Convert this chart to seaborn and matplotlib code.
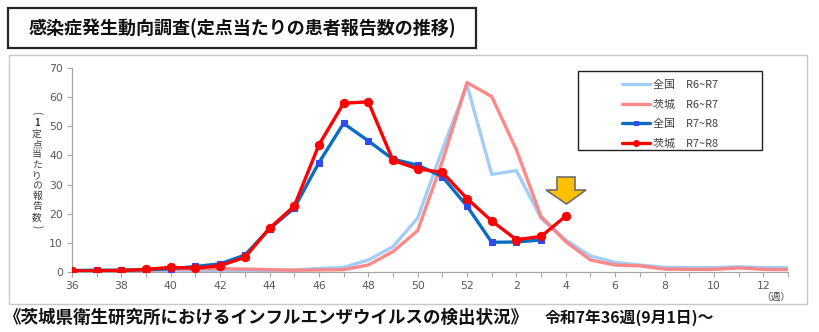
import matplotlib
matplotlib.use("Agg")
import matplotlib.pyplot as plt
from matplotlib.patches import Rectangle, Polygon
import seaborn as sns
import pandas as pd

# Surveillance weeks: week 36 through week 52, then week 1 through week 13
weeks = list(range(36, 53)) + list(range(1, 14))

# Reports per sentinel site, season R6~R7
national_r6 = [0.3, 0.3, 0.3, 0.4, 0.4, 0.5, 0.5, 0.5, 0.6, 0.7,
               1.2, 1.6, 4.1, 8.7, 18.5, 42.0, 64.2, 33.5, 34.8, 18.4,
               11.0, 5.5, 3.3, 2.4, 1.6, 1.5, 1.5, 1.8, 1.5, 1.5]
ibaraki_r6 = [0.5, 0.5, 0.6, 0.7, 0.9, 1.1, 1.1, 1.0, 0.8, 0.6,
              0.7, 0.8, 2.4, 7.0, 14.2, 38.0, 65.0, 60.2, 41.9, 19.0,
              10.4, 4.1, 2.4, 2.1, 1.0, 0.9, 0.9, 1.4, 0.9, 0.8]

# Reports per sentinel site, season R7~R8 (in progress)
national_r7 = [0.5, 0.6, 0.6, 0.8, 1.1, 1.9, 2.8, 5.8, 14.8, 21.9,
               37.5, 51.0, 45.0, 38.7, 36.7, 32.7, 22.6, 10.2, 10.3, 11.0]
ibaraki_r7 = [0.3, 0.4, 0.5, 0.9, 1.6, 1.3, 2.2, 5.0, 15.0, 22.6,
              43.6, 57.9, 58.4, 38.3, 35.4, 34.2, 25.2, 17.5, 11.1, 12.2,
              19.2]

series_labels = ["全国　R6~R7", "茨城　R6~R7", "全国　R7~R8", "茨城　R7~R8"]
title_text = "感染症発生動向調査(定点当たりの患者報告数の推移)"
ylabel_text = "(1定点当たりの報告数)"
footer_left = "《茨城県衛生研究所におけるインフルエンザウイルスの検出状況》"
footer_right = "令和7年36週(9月1日)～"
week_unit = "（週）"

sns.set_theme(style="white")
plt.rcParams["font.family"] = ["Noto Sans CJK JP", "DejaVu Sans"]

W, H = 820, 332
fig = plt.figure(figsize=(W / 100, H / 100), dpi=100)


def fx(px):
    return px / W


def fy(py):
    return 1 - py / H


ax = fig.add_axes([fx(72), fy(272), fx(788) - fx(72), fy(68) - fy(272)])

idx = list(range(len(weeks)))
df_n6 = pd.DataFrame({"i": idx, "v": national_r6})
df_i6 = pd.DataFrame({"i": idx, "v": ibaraki_r6})
df_n7 = pd.DataFrame({"i": idx[:len(national_r7)], "v": national_r7})
df_i7 = pd.DataFrame({"i": idx[:len(ibaraki_r7)], "v": ibaraki_r7})

sns.lineplot(data=df_n6, x="i", y="v", ax=ax, color="#9DCBF7", lw=2.4,
             alpha=0.95, label=series_labels[0], zorder=2)
sns.lineplot(data=df_i6, x="i", y="v", ax=ax, color="#FF8282", lw=2.4,
             alpha=0.95, label=series_labels[1], zorder=2)
sns.lineplot(data=df_n7, x="i", y="v", ax=ax, color="#0A6EC0", lw=2.4,
             marker="s", markersize=4.5, markerfacecolor="#2E4CF0",
             markeredgecolor="#2E4CF0", label=series_labels[2], zorder=3)
sns.lineplot(data=df_i7, x="i", y="v", ax=ax, color="#FF0000", lw=2.4,
             marker="o", markersize=6, markerfacecolor="#FF0000",
             markeredgecolor="#FF0000", label=series_labels[3], zorder=4)

ax.set_xlim(0, len(weeks) - 1)
ax.set_ylim(0, 70)
ax.set_yticks(range(0, 71, 10))
ax.set_xticks(idx)
ax.set_xticklabels([str(w) if k % 2 == 0 else "" for k, w in enumerate(weeks)])
ax.set_xlabel("")
ax.set_ylabel("")
for s in ("top", "right"):
    ax.spines[s].set_visible(False)
for s in ("left", "bottom"):
    ax.spines[s].set_color("#A6A6A6")
    ax.spines[s].set_linewidth(0.9)
ax.tick_params(axis="both", which="major", direction="out", length=3.5,
               width=0.8, color="#A6A6A6", labelcolor="#595959",
               pad=3, left=True, bottom=True)
for lab in ax.get_xticklabels() + ax.get_yticklabels():
    lab.set_family(["DejaVu Sans"])
    lab.set_fontsize(7.8)

# Legend inside its own framed box
handles, labels = ax.get_legend_handles_labels()
leg = ax.legend(handles, labels, loc="upper left", frameon=False,
                bbox_to_anchor=(fx(613), fy(71)), bbox_transform=fig.transFigure,
                handlelength=2.5, handletextpad=0.3, labelspacing=0.85,
                fontsize=7.9, borderpad=0.35, markerscale=0.7)
for t in leg.get_texts():
    t.set_color("#404040")
fig.patches.append(Rectangle((fx(578), fy(150)), fx(762) - fx(578), fy(71) - fy(150),
                             transform=fig.transFigure, fill=False,
                             edgecolor="#202020", lw=1.0, zorder=5))

# Outer panel around the chart
fig.patches.append(Rectangle((fx(9), fy(304)), fx(807) - fx(9), fy(55) - fy(304),
                             transform=fig.transFigure, fill=False,
                             edgecolor="#C8C8C8", lw=1.0, zorder=0))

# Title box
fig.patches.append(Rectangle((fx(8), fy(48)), fx(476) - fx(8), fy(8) - fy(48),
                             transform=fig.transFigure, fill=False,
                             edgecolor="#262626", lw=1.6, zorder=5))
fig.text(fx(242), fy(28), title_text, ha="center", va="center",
         fontsize=13, fontweight="bold", color="#111111")

# Vertical y-axis label, stacked one character at a time
n_chars = len(ylabel_text)
top_px, bottom_px = 113, 227
step = (bottom_px - top_px) / (n_chars - 1)
for k, ch in enumerate(ylabel_text):
    rot = -90 if ch in "()" else 0
    fig.text(fx(37), fy(top_px + k * step), ch, ha="center", va="center",
             fontsize=7.0, color="#404040", rotation=rot,
             fontweight="bold" if ch == "1" else "normal")

# Week unit under the right end of the axis
fig.text(fx(791), fy(297), week_unit, ha="right", va="center",
         fontsize=7, color="#404040")

# Marker arrow pointing at the latest week
arrow_px = [(557, 177), (575, 177), (575, 190), (586, 190), (566.5, 204),
            (546, 190), (557, 190)]
fig.patches.append(Polygon([(fx(x), fy(y)) for x, y in arrow_px], closed=True,
                           transform=fig.transFigure, facecolor="#FFC000",
                           edgecolor="#6E6E6E", lw=1.2, zorder=6))

# Footer lines
fig.text(fx(4), fy(318), footer_left, ha="left", va="center",
         fontsize=12.6, fontweight="bold", color="#111111")
fig.text(fx(545), fy(318), footer_right, ha="left", va="center",
         fontsize=11.4, fontweight="bold", color="#111111")

fig.savefig("out.png", dpi=100)
